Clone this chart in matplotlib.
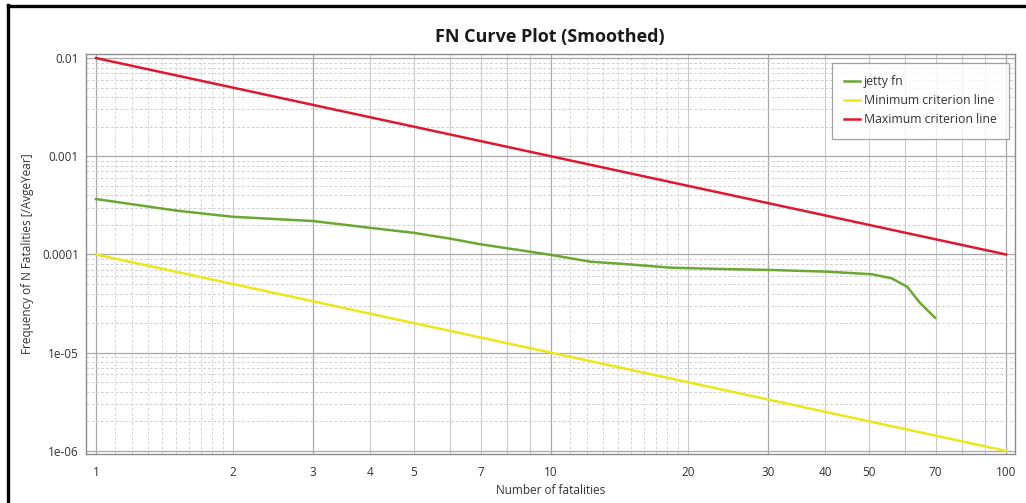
import numpy as np
import matplotlib
matplotlib.use("Agg")
import matplotlib.pyplot as plt
from matplotlib.ticker import FixedLocator, NullFormatter, FixedFormatter
from matplotlib.lines import Line2D

plt.rcParams['font.family'] = ['Open Sans', 'DejaVu Sans']

# FN curve of the jetty (smoothed)
n_jetty = [1, 1.5, 2, 3, 4, 5, 6, 7, 8.5, 10, 12.2, 15, 18.3, 23.5, 30.5, 40.6, 50.7, 56, 60.6, 64.7, 69.8]
f_jetty = [3.67e-4, 2.8e-4, 2.42e-4, 2.19e-4, 1.87e-4, 1.66e-4, 1.45e-4, 1.27e-4, 1.11e-4, 9.9e-5,
           8.45e-5, 7.9e-5, 7.34e-5, 7.12e-5, 6.95e-5, 6.68e-5, 6.29e-5, 5.73e-5, 4.70e-5, 3.21e-5, 2.27e-5]

# Criterion lines (end points)
n_crit = [1, 100]
f_min = [1e-4, 1e-6]
f_max = [1e-2, 1e-4]

x_ticks = [1, 2, 3, 4, 5, 7, 10, 20, 30, 40, 50, 70, 100]
x_labels = ["1", "2", "3", "4", "5", "7", "10", "20", "30", "40", "50", "70", "100"]
y_ticks = [1e-6, 1e-5, 1e-4, 1e-3, 1e-2]
y_labels = ["1e-06", "1e-05", "0.0001", "0.001", "0.01"]

W, H = 1026, 503
fig = plt.figure(figsize=(W / 100, H / 100), dpi=100)
fig.patch.set_facecolor("white")

ax = fig.add_axes([86 / W, 1 - 454 / H, (1015 - 86) / W, (454 - 54) / H])
ax.set_xscale("log")
ax.set_yscale("log")
ax.set_xlim(0.951, 104.6)
ax.set_ylim(0.93e-6, 0.011)

# grid: strong lines, lighter helper lines, dashed fine lines
major_x = [1, 3, 10, 30, 100]
mid_x = [2, 4, 5, 6, 7, 8, 9, 20, 40, 50, 60, 70, 80, 90]
fine_x = [1 + 0.1 * k for k in range(1, 10)] + [10 + k for k in range(1, 10)]
for v in fine_x:
    ax.axvline(v, color="#d6d6d6", lw=0.7, ls=(0, (3, 2)), zorder=0)
for v in mid_x:
    ax.axvline(v, color="#cacaca", lw=0.8, zorder=0)
for v in major_x:
    ax.axvline(v, color="#a8a8a8", lw=0.9, zorder=0)
for dec in [1e-6, 1e-5, 1e-4, 1e-3]:
    for k in range(2, 10):
        ax.axhline(dec * k, color="#d0d0d0", lw=0.7, ls=(0, (3, 2)), zorder=0)
for v in y_ticks:
    ax.axhline(v, color="#a8a8a8", lw=0.9, zorder=0)

ax.plot(n_crit, f_max, color="#e0182f", lw=1.8, zorder=3)
ax.plot(n_crit, f_min, color="#ece61a", lw=1.8, zorder=3)
ax.plot(n_jetty, f_jetty, color="#6aa832", lw=1.8, zorder=3)

ax.xaxis.set_major_locator(FixedLocator(x_ticks))
ax.xaxis.set_major_formatter(FixedFormatter(x_labels))
ax.xaxis.set_minor_locator(FixedLocator([]))
ax.xaxis.set_minor_formatter(NullFormatter())
ax.yaxis.set_major_locator(FixedLocator(y_ticks))
ax.yaxis.set_major_formatter(FixedFormatter(y_labels))
ax.yaxis.set_minor_locator(FixedLocator([]))
ax.yaxis.set_minor_formatter(NullFormatter())
ax.tick_params(axis="both", which="both", length=0, labelsize=8.5, colors="#333333")
ax.tick_params(axis="x", pad=9)
ax.tick_params(axis="y", pad=5)

for s in ax.spines.values():
    s.set_color("#8c8c8c")
    s.set_linewidth(1.0)

ax.set_xlabel("Number of fatalities", fontsize=8.5, color="#333333", labelpad=3)
ax.set_ylabel("Frequency of N Fatalities [/AvgeYear]", fontsize=8.5, color="#333333", labelpad=6)
fig.text(550 / W, 1 - 37 / H, "FN Curve Plot (Smoothed)", ha="center", va="center",
         fontsize=13, fontweight="bold", color="#1a1a1a")

handles = [Line2D([], [], color="#6aa832", lw=1.8),
           Line2D([], [], color="#ece61a", lw=1.8),
           Line2D([], [], color="#e0182f", lw=1.8)]
leg = ax.legend(handles, ["jetty fn", "Minimum criterion line", "Maximum criterion line"],
                loc="upper right", bbox_to_anchor=(1009 / W, 1 - 63 / H),
                bbox_transform=fig.transFigure, fontsize=8.8, frameon=True, fancybox=False,
                edgecolor="#8c8c8c", handlelength=1.3, handletextpad=0.3,
                labelspacing=0.5, borderpad=1.0, borderaxespad=0)
leg.get_frame().set_linewidth(0.9)
for t in leg.get_texts():
    t.set_color("#333333")

# black frame along the left and top image edges
fig.add_artist(Line2D([7.5 / W, 7.5 / W], [0, 1 - 5 / H], color="black", lw=2.4,
                      transform=fig.transFigure, solid_capstyle="projecting"))
fig.add_artist(Line2D([7.5 / W, 1], [1 - 5.5 / H, 1 - 5.5 / H], color="black", lw=2.4,
                      transform=fig.transFigure, solid_capstyle="projecting"))

fig.savefig("out.png", dpi=100)
